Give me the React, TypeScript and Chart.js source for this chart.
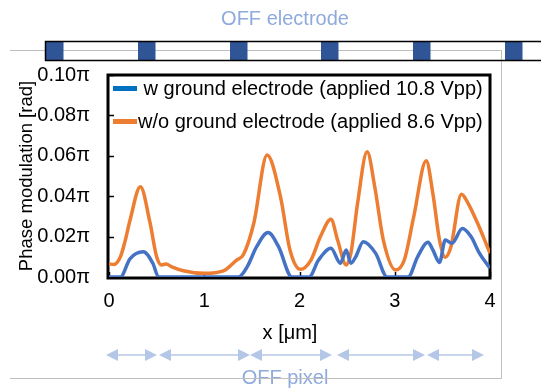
import React, { useEffect, useRef } from "react";
import { Chart, registerables } from "chart.js";

Chart.register(...registerables);

const W = 541;
const H = 389;
const FONT = "'Liberation Sans', Arial, sans-serif";

// ---- data (x in µm, phase in units of π) ----
const seriesLabels = [
  " w ground electrode (applied 10.8 Vpp)",
  "w/o ground electrode (applied 8.6 Vpp)",
];
const xTitle = "x [μm]";
const yTitle = "Phase modulation [rad]";
const xTickValues = [0, 1, 2, 3, 4];
const yTickValues = [0, 0.02, 0.04, 0.06, 0.08, 0.1];

const wX = [0, 0.12, 0.22, 0.36, 0.46, 0.52, 1.36, 1.45, 1.55, 1.67, 1.78, 1.92, 2.1, 2.2, 2.33, 2.43, 2.49, 2.54, 2.59, 2.67, 2.8, 2.92, 3.14, 3.24, 3.35, 3.4, 3.47, 3.53, 3.6, 3.71, 3.8, 3.89, 4.0];
const wY = [0, 0, 0.009, 0.0125, 0.0068, 0, 0, 0.005, 0.015, 0.022, 0.015, 0, 0, 0.0084, 0.0142, 0.0068, 0.0134, 0.0068, 0.01, 0.0175, 0.0117, 0, 0, 0.01, 0.0172, 0.0134, 0.0072, 0.0183, 0.0167, 0.024, 0.02, 0.0117, 0.0043];

const woX = [0, 0.05, 0.12, 0.17, 0.22, 0.33, 0.43, 0.5, 0.55, 0.6, 0.66, 0.78, 1.0, 1.2, 1.34, 1.41, 1.52, 1.66, 1.8, 1.9, 2.01, 2.12, 2.22, 2.33, 2.4, 2.49, 2.54, 2.61, 2.71, 2.79, 2.88, 3.01, 3.1, 3.2, 3.33, 3.4, 3.47, 3.53, 3.59, 3.7, 3.77, 3.87, 4.0];
const woY = [0.0065, 0.0062, 0.01, 0.018, 0.028, 0.0447, 0.027, 0.01, 0.006, 0.0064, 0.005, 0.0031, 0.0018, 0.003, 0.0084, 0.011, 0.0266, 0.0604, 0.0398, 0.0134, 0.0038, 0.0084, 0.02, 0.0286, 0.0183, 0.006, 0.0119, 0.0366, 0.062, 0.0447, 0.0183, 0.0035, 0.0084, 0.03, 0.0576, 0.0414, 0.0183, 0.0098, 0.015, 0.041, 0.0365, 0.0266, 0.0117];

const lineColors = ["#4472C4", "#ED7D31"];
const legendColors = ["#0070C0", "#ED7D31"];

const decor = {
  id: "decor",
  beforeDatasetsDraw(chart: any) {
    const { ctx, chartArea: a } = chart;
    ctx.save();
    // inner tick marks
    ctx.strokeStyle = "#000";
    ctx.lineWidth = 1.5;
    const xs = chart.scales.x;
    const ys = chart.scales.y;
    xTickValues.forEach((v) => {
      const px = Math.round(xs.getPixelForValue(v)) + 0.5;
      ctx.beginPath();
      ctx.moveTo(px, a.bottom);
      ctx.lineTo(px, a.bottom - 5);
      ctx.stroke();
    });
    yTickValues.forEach((v) => {
      const py = Math.round(ys.getPixelForValue(v)) + 0.5;
      ctx.beginPath();
      ctx.moveTo(a.left, py);
      ctx.lineTo(a.left + 5, py);
      ctx.stroke();
    });
    // plot border
    ctx.lineWidth = 3;
    ctx.strokeRect(a.left - 1, a.top, a.right - a.left + 1, a.bottom - a.top + 1);
    ctx.restore();
  },
  afterDraw(chart: any) {
    const { ctx } = chart;
    ctx.save();
    // gray frame
    ctx.strokeStyle = "#BFBFBF";
    ctx.lineWidth = 1;
    ctx.beginPath();
    ctx.moveTo(10, 50.5);
    ctx.lineTo(501.5, 50.5);
    ctx.lineTo(501.5, 378.5);
    ctx.lineTo(10, 378.5);
    ctx.stroke();

    // electrode bar
    ctx.fillStyle = "#2F5597";
    [46, 138, 230, 321, 413, 505].forEach((x0) => ctx.fillRect(x0, 42, 17.5, 18));
    ctx.strokeStyle = "#000";
    ctx.lineWidth = 1.5;
    ctx.strokeRect(45.5, 41.5, 520, 19);

    // OFF electrode text
    ctx.fillStyle = "#8FAADC";
    ctx.font = `20px ${FONT}`;
    ctx.textAlign = "center";
    ctx.textBaseline = "middle";
    ctx.fillText("OFF electrode", 285, 19);

    // x axis title
    ctx.fillStyle = "#000";
    ctx.font = `20px ${FONT}`;
    ctx.fillText(xTitle, 290, 333);

    // arrows
    const arrows = [
      [106, 157],
      [159, 250],
      [250, 332],
      [337, 425],
      [427, 484],
    ];
    const ay = 355;
    ctx.strokeStyle = "#B4C7E7";
    ctx.fillStyle = "#B4C7E7";
    ctx.lineWidth = 1.5;
    arrows.forEach(([x1, x2]) => {
      ctx.beginPath();
      ctx.moveTo(x1 + 6, ay);
      ctx.lineTo(x2 - 6, ay);
      ctx.stroke();
      ctx.beginPath();
      ctx.moveTo(x1, ay);
      ctx.lineTo(x1 + 12, ay - 6);
      ctx.lineTo(x1 + 12, ay + 6);
      ctx.closePath();
      ctx.fill();
      ctx.beginPath();
      ctx.moveTo(x2, ay);
      ctx.lineTo(x2 - 12, ay - 6);
      ctx.lineTo(x2 - 12, ay + 6);
      ctx.closePath();
      ctx.fill();
    });

    // OFF pixel text + frame line through
    ctx.fillStyle = "#8FAADC";
    ctx.font = `20px ${FONT}`;
    ctx.fillText("OFF pixel", 285, 378);
    ctx.strokeStyle = "#BFBFBF";
    ctx.lineWidth = 1;
    ctx.beginPath();
    ctx.moveTo(230, 378.5);
    ctx.lineTo(340, 378.5);
    ctx.stroke();

    // legend
    const rows = [
      { y: 88.5, lx: 113, tx: 138 },
      { y: 121.5, lx: 113, tx: 138 },
    ];
    ctx.font = `20px ${FONT}`;
    ctx.textAlign = "left";
    ctx.textBaseline = "middle";
    chart.data.datasets.forEach((ds: any, i: number) => {
      const r = rows[i];
      ctx.strokeStyle = legendColors[i];
      ctx.lineWidth = 5;
      ctx.beginPath();
      ctx.moveTo(r.lx, r.y);
      ctx.lineTo(r.lx + 24, r.y);
      ctx.stroke();
      ctx.fillStyle = "#000";
      ctx.fillText(ds.label, r.tx, r.y + 1);
    });
    ctx.restore();
  },
};

export default function App() {
  const ref = useRef<HTMLCanvasElement>(null);
  useEffect(() => {
    document.body.style.margin = "0";
    const chart = new Chart(ref.current as HTMLCanvasElement, {
      type: "line",
      data: {
        datasets: [
          {
            label: seriesLabels[0],
            data: wX.map((x, i) => ({ x, y: wY[i] })),
            borderColor: lineColors[0],
            backgroundColor: lineColors[0],
            borderWidth: 3.5,
            pointRadius: 0,
            cubicInterpolationMode: "monotone",
          },
          {
            label: seriesLabels[1],
            data: woX.map((x, i) => ({ x, y: woY[i] })),
            borderColor: lineColors[1],
            backgroundColor: lineColors[1],
            borderWidth: 3.5,
            pointRadius: 0,
            cubicInterpolationMode: "monotone",
          },
        ],
      },
      options: {
        responsive: false,
        animation: false,
        devicePixelRatio: 1,
        layout: { padding: { left: 0, right: 51, top: 75, bottom: 0 } },
        plugins: { legend: { display: false }, tooltip: { enabled: false } },
        scales: {
          x: {
            type: "linear",
            min: 0,
            max: 4,
            afterBuildTicks: (axis: any) => {
              axis.ticks = xTickValues.map((v) => ({ value: v }));
            },
            afterFit: (s: any) => {
              s.height = 112;
            },
            grid: { display: false, drawTicks: false },
            border: { display: false },
            ticks: {
              font: { family: FONT, size: 20 },
              color: "#000",
              padding: 12,
              maxRotation: 0,
            },
            title: { display: false, text: xTitle },
          },
          y: {
            type: "linear",
            min: 0,
            max: 0.1,
            afterBuildTicks: (axis: any) => {
              axis.ticks = yTickValues.map((v) => ({ value: v }));
            },
            afterFit: (s: any) => {
              s.width = 109;
            },
            grid: { display: false, drawTicks: false },
            border: { display: false },
            ticks: {
              font: { family: FONT, size: 20 },
              color: "#000",
              padding: 19,
              callback: (v: any) => Number(v).toFixed(2) + "π",
            },
            title: {
              display: true,
              text: yTitle,
              font: { family: FONT, size: 18.5 },
              color: "#000",
              padding: { top: 16, bottom: 0 },
            },
          },
        },
      },
      plugins: [decor],
    });
    return () => chart.destroy();
  }, []);
  return (
    <div style={{ position: "absolute", left: 0, top: 0, width: W, height: H, background: "#fff" }}>
      <canvas ref={ref} width={W} height={H} style={{ width: W, height: H, display: "block" }} />
    </div>
  );
}
